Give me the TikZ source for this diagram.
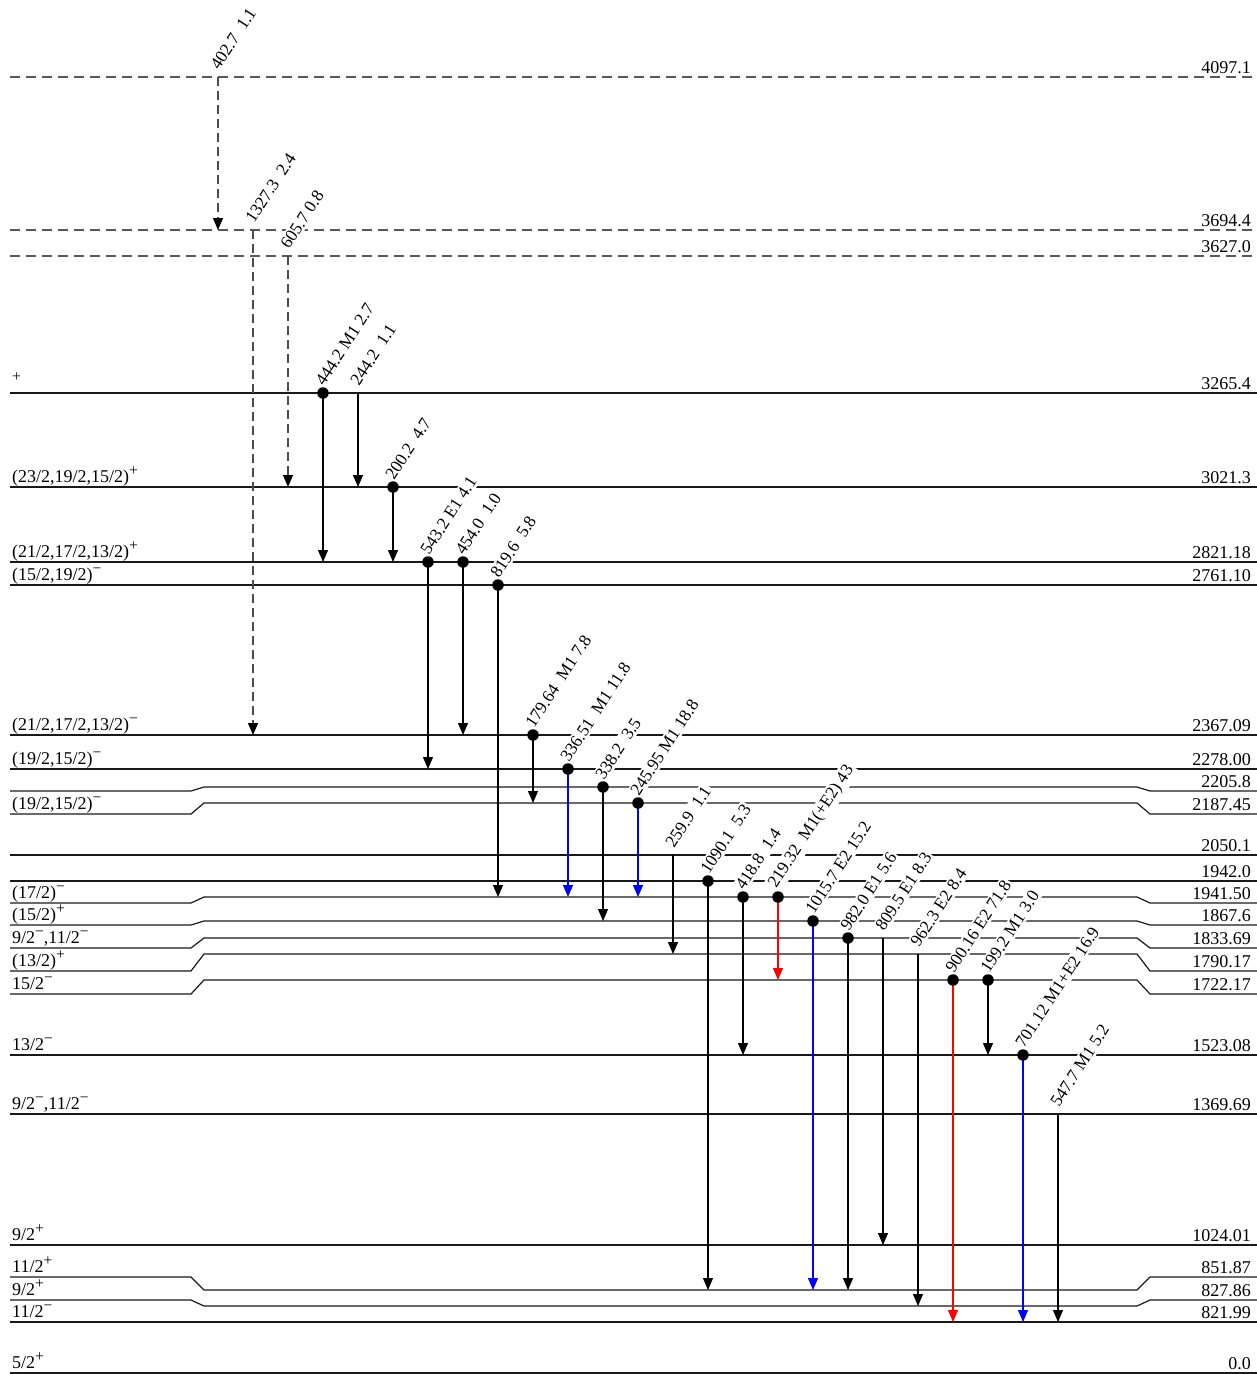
\documentclass[tikz,border=0pt]{standalone}
\usepackage{fontspec}
\setmainfont{Liberation Serif}
\usetikzlibrary{arrows.meta}
\tikzset{
  every node/.style={font=\fontsize{18}{20}\selectfont},
  lvl/.style={line width=1.2pt, draw=black!90},
  dlvl/.style={line width=1.2pt, draw=black!65, dash pattern=on 10pt off 6pt},
  trk/.style={line width=1.1pt, draw=black, -{Triangle[width=10pt,length=12pt]}},
  trb/.style={trk, draw=blue},
  trr/.style={trk, draw=red},
  trd/.style={line width=1.1pt, draw=black!70, dash pattern=on 9pt off 5pt, -{Triangle[width=10pt,length=12pt,color=black]}},
  lablft/.style={anchor=base west, inner sep=0pt},
  labrgt/.style={anchor=base east, inner sep=0pt},
  tlab/.style={rotate=57, anchor=south west, fill=white, inner sep=2pt, font=\fontsize{17.3}{20}\selectfont},
  dotc/.style={circle, fill=black, inner sep=0pt, minimum size=11.5pt},
}
\newcommand\glevel[7]{%
  \draw[#5] (10,#2) -- (191,#2) -- (204,#3) -- (1137,#3) -- (1150,#4) -- (1257,#4);
  \node[lablft] (#1L) at (12,#2-5) {#6};
  \node[labrgt] (#1R) at (1251,#4-4) {#7};
}
\newcommand\gtr[7]{%
  \coordinate (s#1) at (#2,#3);
  \coordinate (e#1) at (#2,#4);
  \node[tlab] (l#1) at ([xshift=2pt,yshift=3pt]s#1) {#7};
  \draw[#5] (s#1) -- (e#1);
  \ifnum#6=1 \node[dotc] (d#1) at (s#1) {};\fi
}
\newcommand\pl{\raisebox{0.38em}{\fontsize{15.5}{16}\selectfont +}}
\newcommand\mi{\raisebox{0.38em}{\fontsize{15.5}{16}\selectfont −}}
\begin{document}
\begin{tikzpicture}[x=1pt,y=-1pt]
\useasboundingbox (0,0) rectangle (1257,1374);
% levels
\glevel{a}{77}{77}{77}{dlvl}{}{4097.1}
\glevel{b}{230}{230}{230}{dlvl}{}{3694.4}
\glevel{c}{256}{256}{256}{dlvl}{}{3627.0}
\glevel{d}{393}{393}{393}{lvl}{\pl}{3265.4}
\glevel{e}{487}{487}{487}{lvl}{(23/2,19/2,15/2)\pl}{3021.3}
\glevel{f}{562}{562}{562}{lvl}{(21/2,17/2,13/2)\pl}{2821.18}
\glevel{g}{585}{585}{585}{lvl}{(15/2,19/2)\mi}{2761.10}
\glevel{h}{735}{735}{735}{lvl}{(21/2,17/2,13/2)\mi}{2367.09}
\glevel{i}{769}{769}{769}{lvl}{(19/2,15/2)\mi}{2278.00}
\glevel{j}{791}{787}{791}{lvl}{}{2205.8}
\glevel{k}{814}{803}{814}{lvl}{(19/2,15/2)\mi}{2187.45}
\glevel{l}{855}{855}{855}{lvl}{}{2050.1}
\glevel{m}{881}{881}{881}{lvl}{}{1942.0}
\glevel{n}{903}{897}{903}{lvl}{(17/2)\mi}{1941.50}
\glevel{o}{925}{921}{925}{lvl}{(15/2)\pl}{1867.6}
\glevel{p}{948}{938}{948}{lvl}{9/2\mi,11/2\mi}{1833.69}
\glevel{q}{971}{954}{971}{lvl}{(13/2)\pl}{1790.17}
\glevel{r}{994}{980}{994}{lvl}{15/2\mi}{1722.17}
\glevel{s}{1055}{1055}{1055}{lvl}{13/2\mi}{1523.08}
\glevel{t}{1114}{1114}{1114}{lvl}{9/2\mi,11/2\mi}{1369.69}
\glevel{u}{1245}{1245}{1245}{lvl}{9/2\pl}{1024.01}
\glevel{v}{1277}{1290}{1277}{lvl}{11/2\pl}{851.87}
\glevel{w}{1300}{1306}{1300}{lvl}{9/2\pl}{827.86}
\glevel{x}{1322}{1322}{1322}{lvl}{11/2\mi}{821.99}
\glevel{y}{1373}{1373}{1373}{lvl}{5/2\pl}{0.0}
% transitions
\gtr{1}{218}{77}{230}{trd}{0}{402.7\ \ 1.1}
\gtr{2}{253}{230}{735}{trd}{0}{1327.3\ \ 2.4}
\gtr{3}{288}{256}{487}{trd}{0}{605.7 0.8}
\gtr{4}{323}{393}{562}{trk}{1}{444.2 M1 2.7}
\gtr{5}{358}{393}{487}{trk}{0}{244.2\ \ 1.1}
\gtr{6}{393}{487}{562}{trk}{1}{200.2\ \ 4.7}
\gtr{7}{428}{562}{769}{trk}{1}{543.2 E1 4.1}
\gtr{8}{463}{562}{735}{trk}{1}{454.0\ \ 1.0}
\gtr{9}{498}{585}{897}{trk}{1}{819.6\ \ 5.8}
\gtr{10}{533}{735}{803}{trk}{1}{179.64\ \ M1 7.8}
\gtr{11}{568}{769}{897}{trb}{1}{336.51\ \ M1 11.8}
\gtr{12}{603}{787}{921}{trk}{1}{338.2\ \ 3.5}
\gtr{13}{638}{803}{897}{trb}{1}{245.95 M1 18.8}
\gtr{14}{673}{855}{954}{trk}{0}{259.9\ \ 1.1}
\gtr{15}{708}{881}{1290}{trk}{1}{1090.1\ \ 5.3}
\gtr{16}{743}{897}{1055}{trk}{1}{418.8\ \ 1.4}
\gtr{17}{778}{897}{980}{trr}{1}{219.32\ \ M1(+E2) 43}
\gtr{18}{813}{921}{1290}{trb}{1}{1015.7 E2 15.2}
\gtr{19}{848}{938}{1290}{trk}{1}{982.0 E1 5.6}
\gtr{20}{883}{938}{1245}{trk}{0}{809.5 E1 8.3}
\gtr{21}{918}{954}{1306}{trk}{0}{962.3 E2 8.4}
\gtr{22}{953}{980}{1322}{trr}{1}{900.16 E2 71.8}
\gtr{23}{988}{980}{1055}{trk}{1}{199.2 M1 3.0}
\gtr{24}{1023}{1055}{1322}{trb}{1}{701.12 M1+E2 16.9}
\gtr{25}{1058}{1114}{1322}{trk}{0}{547.7 M1 5.2}
\end{tikzpicture}
\end{document}
